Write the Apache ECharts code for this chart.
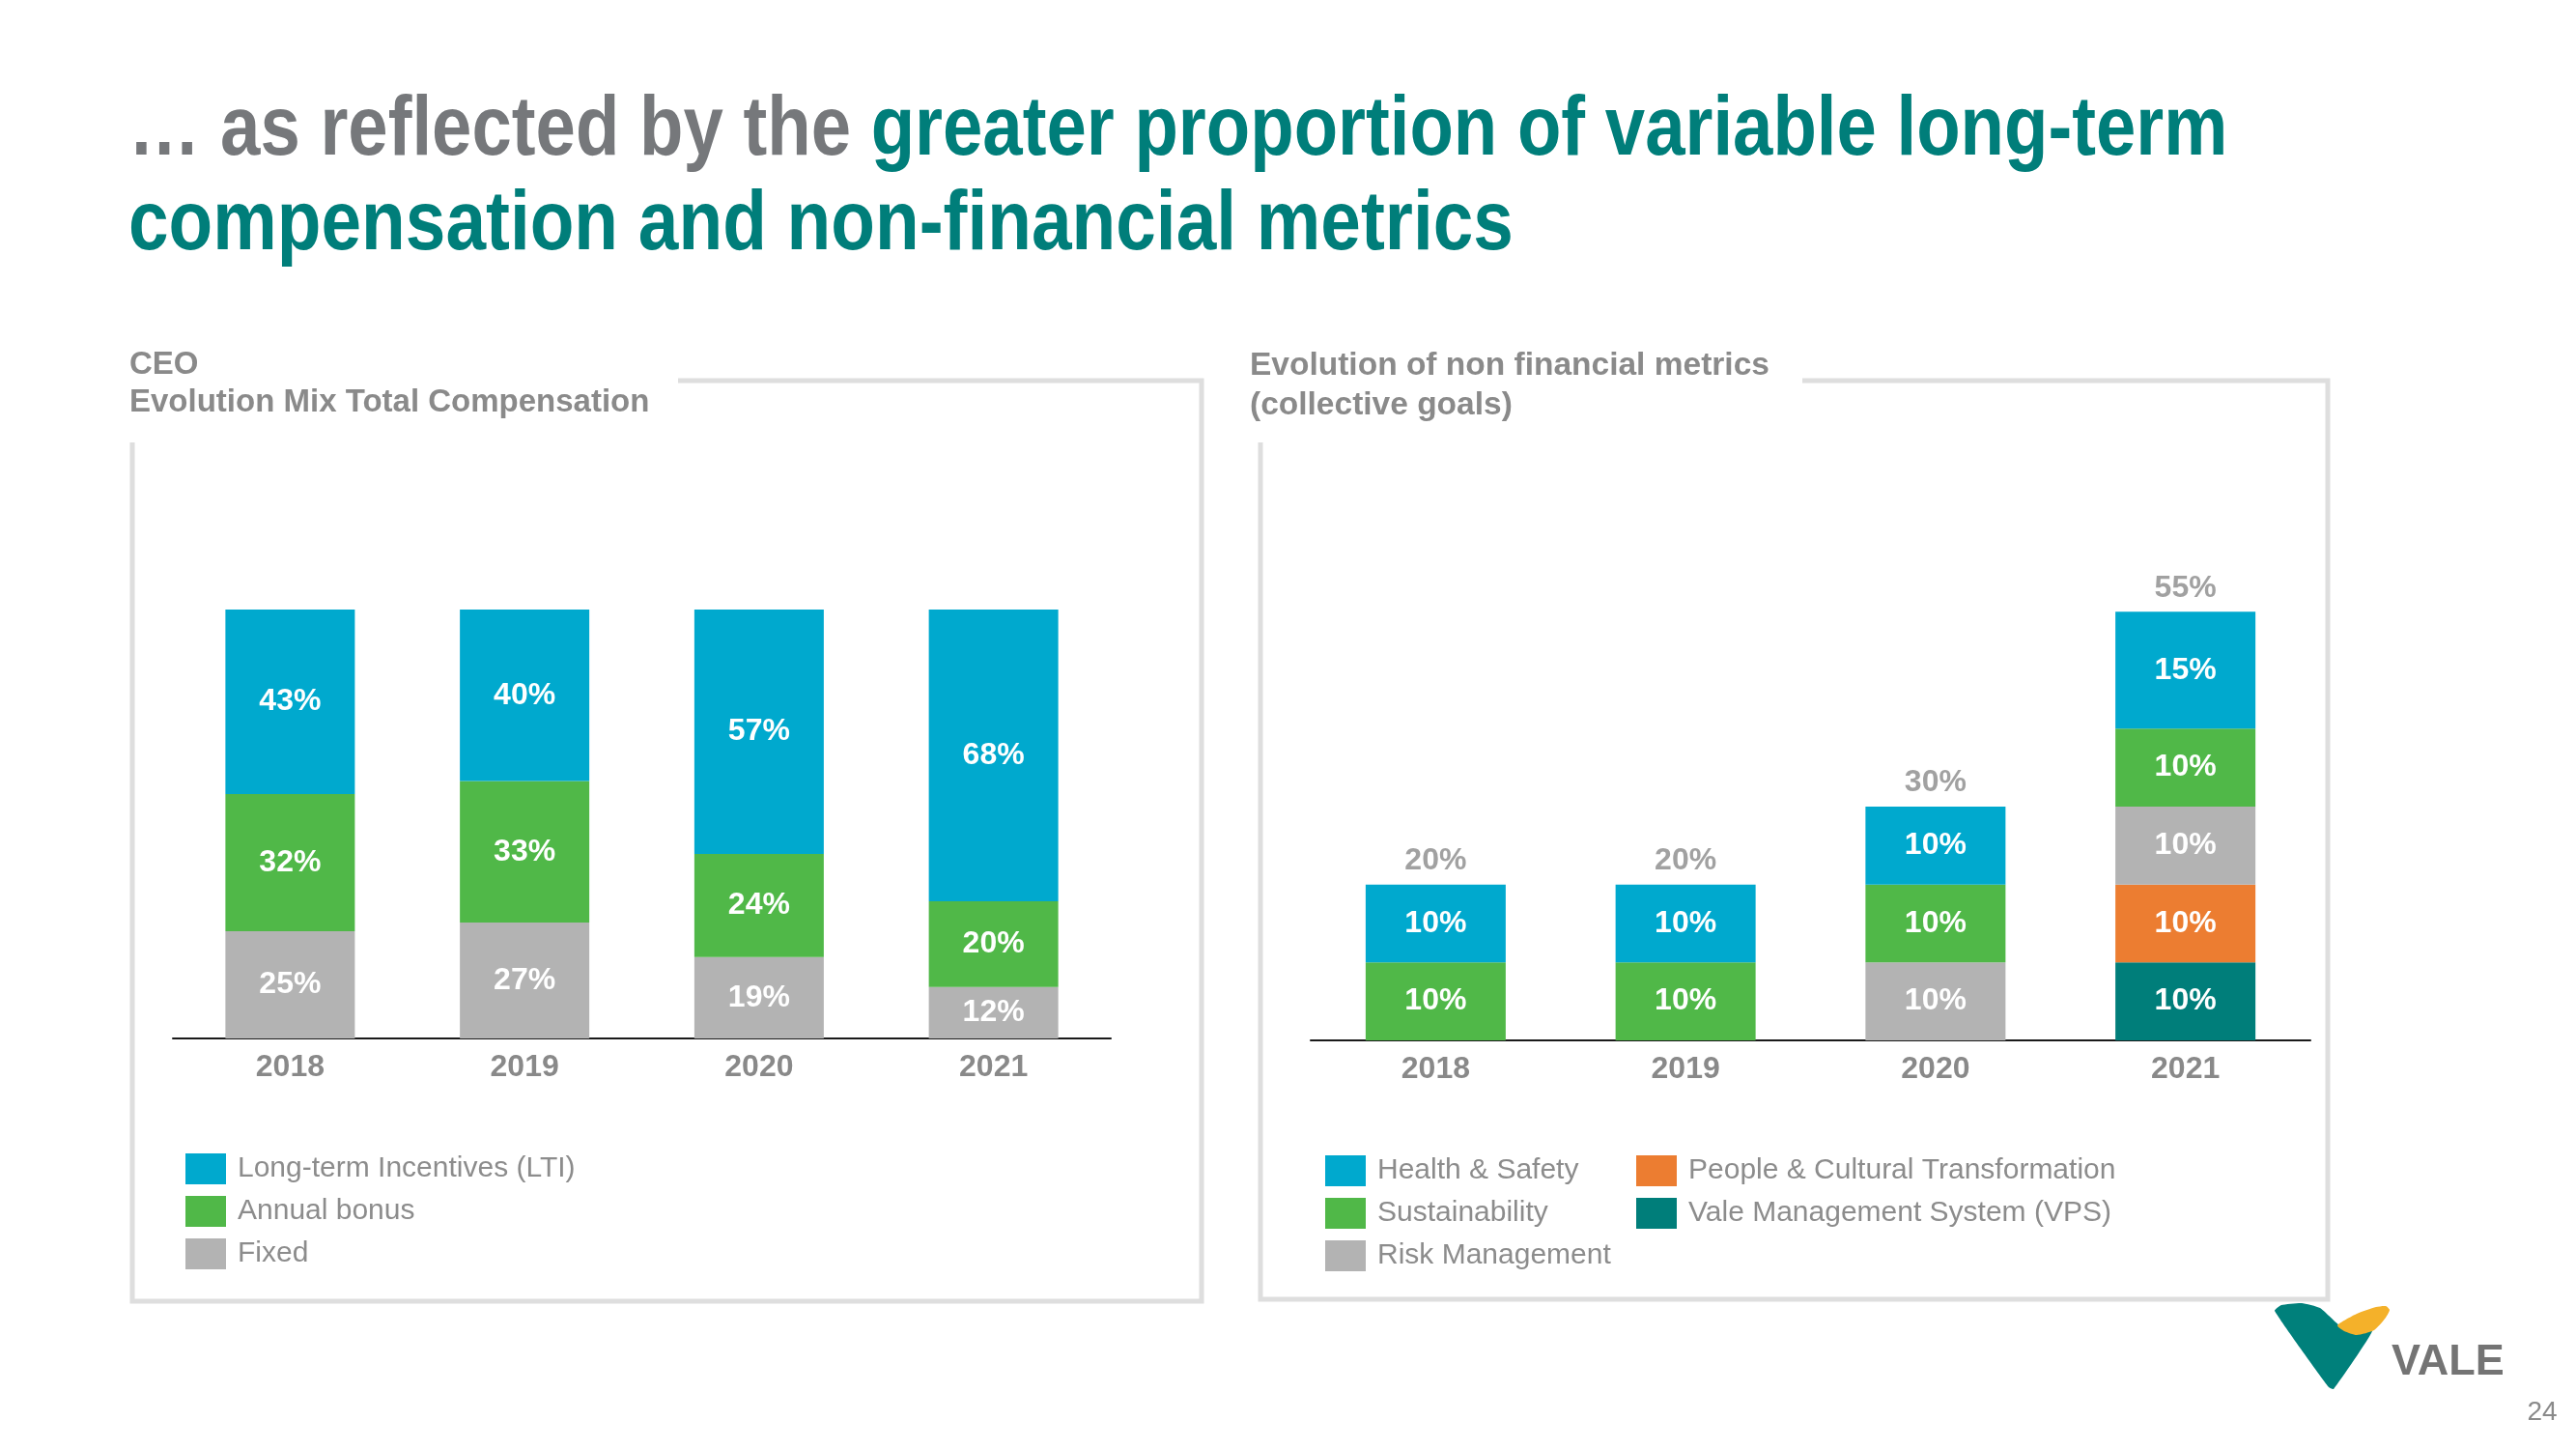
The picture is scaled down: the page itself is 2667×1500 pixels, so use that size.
<!DOCTYPE html>
<html>
<head>
<meta charset="utf-8">
<script src="https://cdn.jsdelivr.net/npm/echarts@6/dist/echarts.min.js"></script>
<style>
html,body{margin:0;padding:0;background:#fff;}
#chart{width:2667px;height:1500px;}
</style>
</head>
<body>
<div id="chart"></div>
<script>
// ---- Data ----
const years = ['2018', '2019', '2020', '2021'];
// CEO – Evolution Mix Total Compensation (%)
const ceoFixed = [25, 27, 19, 12];
const ceoBonus = [32, 33, 24, 20];
const ceoLTI   = [43, 40, 57, 68];
// Evolution of non financial metrics (%)
const nfVPS    = [null, null, null, 10];
const nfPeople = [null, null, null, 10];
const nfRisk   = [null, null, 10, 10];
const nfSust   = [10, 10, 10, 10];
const nfHS     = [10, 10, 10, 15];
const nfTotals = [20, 20, 30, 55];

const FONT = '"Liberation Sans", Arial, sans-serif';
const C = {
  blue: '#00a9ce', green: '#50b848', gray: '#b3b3b3',
  orange: '#ec7d31', teal: '#007e7a', text: '#898989', box: '#dedede'
};

const chart = echarts.init(document.getElementById('chart'), null, {renderer: 'canvas'});

const inLabel = {
  show: true, position: 'inside', color: '#fff', fontSize: 32,
  fontWeight: 'bold', fontFamily: FONT, formatter: p => p.value + '%'
};

function bar(name, data, color, gi, width) {
  return {
    name, type: 'bar', stack: 's' + gi, data, xAxisIndex: gi, yAxisIndex: gi,
    barWidth: width, itemStyle: {color}, label: inLabel, emphasis: {disabled: true}
  };
}

const legendBase = {
  orient: 'vertical', icon: 'rect', itemWidth: 42, itemHeight: 32, itemGap: 12,
  selectedMode: false, padding: 0,
  textStyle: {fontSize: 30, color: '#8c8c8c', fontFamily: FONT, padding: [0, 0, 0, 7]}
};

const catAxis = gi => ({
  type: 'category', data: years, gridIndex: gi,
  axisLine: {lineStyle: {color: '#1a1a1a', width: 2}},
  axisTick: {show: false},
  axisLabel: {fontSize: 32, fontWeight: 'bold', color: C.text, fontFamily: FONT, margin: 14}
});

const option = {
  animation: false,
  backgroundColor: '#fff',
  grid: [
    {left: 179, top: 631, width: 971, height: 444},
    {left: 1357, top: 593, width: 1035, height: 484}
  ],
  xAxis: [catAxis(0), catAxis(1)],
  yAxis: [
    {type: 'value', gridIndex: 0, min: 0, max: 100, show: false},
    {type: 'value', gridIndex: 1, min: 0, max: 60, show: false}
  ],
  legend: [
    Object.assign({}, legendBase, {left: 192, top: 1194,
      data: ['Long-term Incentives (LTI)', 'Annual bonus', 'Fixed']}),
    Object.assign({}, legendBase, {left: 1372, top: 1196,
      data: ['Health & Safety', 'Sustainability', 'Risk Management']}),
    Object.assign({}, legendBase, {left: 1694, top: 1196,
      data: ['People & Cultural Transformation', 'Vale Management System (VPS)']})
  ],
  series: [
    bar('Fixed', ceoFixed, C.gray, 0, 134),
    bar('Annual bonus', ceoBonus, C.green, 0, 134),
    bar('Long-term Incentives (LTI)', ceoLTI, C.blue, 0, 134),
    bar('Vale Management System (VPS)', nfVPS, C.teal, 1, 145),
    bar('People & Cultural Transformation', nfPeople, C.orange, 1, 145),
    bar('Risk Management', nfRisk, C.gray, 1, 145),
    bar('Sustainability', nfSust, C.green, 1, 145),
    bar('Health & Safety', nfHS, C.blue, 1, 145),
    {
      name: 'Total', type: 'scatter', xAxisIndex: 1, yAxisIndex: 1, data: nfTotals,
      symbol: 'rect', symbolSize: 1, itemStyle: {color: 'rgba(255,255,255,0)'}, silent: true,
      z: 10,
      label: {show: true, position: 'top', distance: 8, color: C.text, fontSize: 32,
        fontWeight: 'bold', fontFamily: FONT, formatter: p => p.value + '%'}
    }
  ],
  graphic: [
    // Main title
    {type: 'text', x: 133, y: 136, scaleX: 0.845, scaleY: 1,
      style: {text: '{g|… as reflected by the }{t|greater proportion of variable long-term}',
        verticalAlign: 'middle', align: 'left',
        rich: {
          g: {font: 'bold 88px ' + FONT, fill: '#76787b'},
          t: {font: 'bold 88px ' + FONT, fill: '#007e7a'}
        }}},
    {type: 'text', x: 133, y: 234, scaleX: 0.85, scaleY: 1,
      style: {text: 'compensation and non-financial metrics', font: 'bold 88px ' + FONT,
        fill: '#007e7a', verticalAlign: 'middle', align: 'left'}},
    // Section titles
    {type: 'text', x: 134, y: 378, style: {text: 'CEO', font: 'bold 33px ' + FONT,
      fill: '#8a8a8a', verticalAlign: 'middle'}},
    {type: 'text', x: 134, y: 417, style: {text: 'Evolution Mix Total Compensation',
      font: 'bold 33px ' + FONT, fill: '#8a8a8a', verticalAlign: 'middle'}},
    {type: 'text', x: 1294, y: 379, style: {text: 'Evolution of non financial metrics',
      font: 'bold 33.5px ' + FONT, fill: '#8a8a8a', verticalAlign: 'middle'}},
    {type: 'text', x: 1294, y: 420, style: {text: '(collective goals)',
      font: 'bold 33.5px ' + FONT, fill: '#8a8a8a', verticalAlign: 'middle'}},
    // Boxes
    {type: 'polyline', shape: {points: [[702, 394], [1244, 394], [1244, 1347], [137, 1347], [137, 458]]},
      style: {stroke: C.box, lineWidth: 5, fill: null}},
    {type: 'polyline', shape: {points: [[1866, 394], [2410, 394], [2410, 1345], [1305, 1345], [1305, 458]]},
      style: {stroke: C.box, lineWidth: 5, fill: null}},
    // VALE logo
    {type: 'polygon', shape: {smooth: 0.15, points: [[2355, 1357], [2362, 1351], [2383, 1349], [2402, 1354],
      [2422, 1372], [2437, 1380], [2456, 1378], [2416, 1438], [2411, 1436]]},
      style: {fill: '#00807b'}},
    {type: 'polygon', shape: {smooth: 0.2, points: [[2420, 1372], [2440, 1360], [2460, 1353], [2470, 1352],
      [2474, 1356], [2470, 1364], [2458, 1377], [2440, 1382], [2427, 1378]]},
      style: {fill: '#f4b12a'}},
    {type: 'text', x: 2476, y: 1411, style: {text: 'VALE', font: 'bold 45px ' + FONT,
      fill: '#747474', verticalAlign: 'middle'}},
    {type: 'text', x: 2632, y: 1462, style: {text: '24', font: '28px ' + FONT,
      fill: '#8a8a8a', verticalAlign: 'middle', align: 'center'}}
  ]
};

chart.setOption(option);
</script>
</body>
</html>
